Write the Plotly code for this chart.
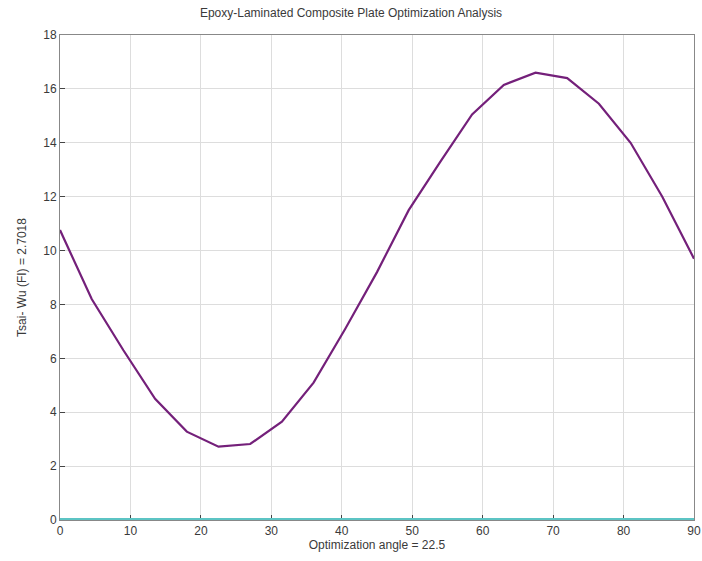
import plotly.graph_objects as go

angles = [0, 4.5, 9, 13.5, 18, 22.5, 27, 31.5, 36, 40.5, 45, 49.5, 54, 58.5, 63, 67.5, 72, 76.5, 81, 85.5, 90]
tsai_wu = [10.76, 8.2, 6.3, 4.5, 3.28, 2.72, 2.82, 3.65, 5.1, 7.1, 9.2, 11.5, 13.3, 15.05, 16.15, 16.6, 16.4, 15.45, 14.0, 12.0, 9.7]
baseline = [0] * len(angles)

title_text = "Epoxy-Laminated Composite Plate Optimization Analysis"
x_title = "Optimization angle = 22.5"
y_title = "Tsai- Wu (FI) = 2.7018"
x_ticks = [0, 10, 20, 30, 40, 50, 60, 70, 80, 90]
y_ticks = [0, 2, 4, 6, 8, 10, 12, 14, 16, 18]

fig = go.Figure()
fig.add_trace(go.Scatter(x=angles, y=baseline, mode="lines",
                         line=dict(color="#5cc4c4", width=4), showlegend=False))
fig.add_trace(go.Scatter(x=angles, y=tsai_wu, mode="lines",
                         line=dict(color="#74207a", width=2.2), showlegend=False))

font = dict(family="Liberation Sans, Arial, sans-serif", size=12, color="#3a3a3a")
fig.update_layout(
    width=702, height=561,
    margin=dict(l=60, r=8, t=35, b=41),
    paper_bgcolor="white", plot_bgcolor="white",
    font=font,
    title=dict(text=title_text, x=0.5, xanchor="center", y=0.978, yanchor="middle",
               font=dict(family="Liberation Sans, Arial, sans-serif", size=12, color="#3a3a3a")),
)
fig.update_xaxes(range=[0, 90], tickvals=x_ticks, ticks="inside", ticklen=5,
                 showgrid=True, gridcolor="#dddddd", gridwidth=1,
                 showline=True, linecolor="#888888", linewidth=1, mirror=True,
                 zeroline=False, automargin=False, layer="below traces",
                 title=dict(text=x_title, standoff=0, font=font))
fig.update_yaxes(range=[0, 18], tickvals=y_ticks, ticks="inside", ticklen=5,
                 showgrid=True, gridcolor="#dddddd", gridwidth=1,
                 showline=True, linecolor="#888888", linewidth=1, mirror=True,
                 zeroline=False, automargin=False, layer="below traces",
                 title=dict(text=y_title, standoff=14, font=font))

fig.write_html("out.html",
               config={"displayModeBar": False},
               post_script="document.body.style.margin='0px';document.body.style.overflow='hidden';")
